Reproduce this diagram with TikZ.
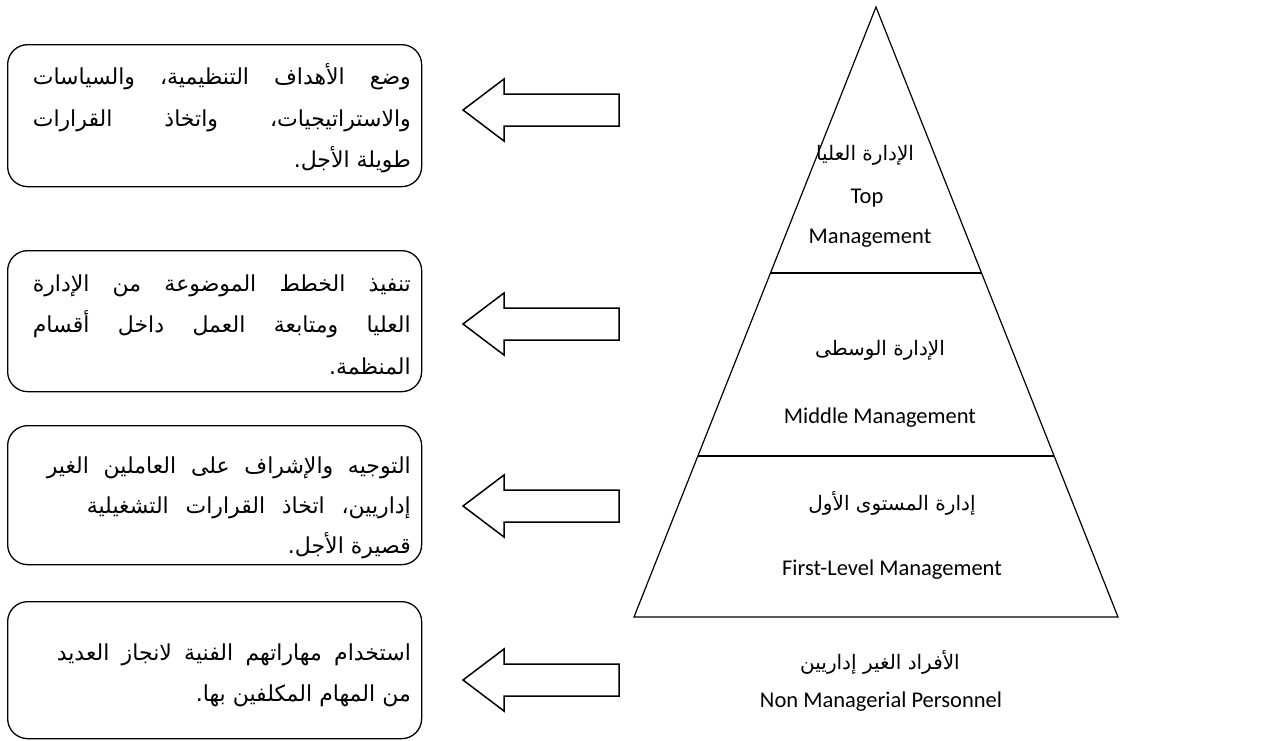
\documentclass[tikz,border=0pt]{standalone}
\usepackage{fontspec}
\usetikzlibrary{calc}
\TeXXeTstate=1
\newfontfamily\arabicfont[Script=Arabic]{DejaVu Sans}
\newfontfamily\latinfont{Carlito}
\newcommand\ws{\hskip 0.3em plus 1fil minus 0.12em}
\begin{document}
\begin{tikzpicture}[x=1pt,y=-1pt,
  box/.style={draw, line width=1.3pt, rounded corners=20pt, rectangle, anchor=north west, inner sep=0pt},
  blockarrow/.style={draw, line width=1.5pt, line join=miter},
  lvl/.style={line width=1.2pt},
  en/.style={font=\latinfont\fontsize{22.5}{27}\selectfont, inner sep=0pt},
  ar/.style={font=\arabicfont\fontsize{20}{24}\selectfont, inner sep=0pt},
  boxline/.style={anchor=base east, inner sep=0pt, font=\arabicfont\fontsize{22}{26}\selectfont},
  larrow/.pic={\draw[blockarrow] (0,0) -- (41,-31) -- (41,-16) -- (156,-16) -- (156,16) -- (41,16) -- (41,31) -- cycle;}]
\useasboundingbox (0,0) rectangle (1272,740);

% boxes
\node[box, minimum width=414pt, minimum height=142pt] (b1) at (7,44) {};
\node[box, minimum width=414pt, minimum height=141pt] (b2) at (7,250) {};
\node[box, minimum width=414pt, minimum height=139pt] (b3) at (7,425) {};
\node[box, minimum width=414pt, minimum height=137pt] (b4) at (7,601) {};

% box texts
\node[boxline] (b1l1) at (411,84) {\hbox to 378pt{\beginR وضع\ws الأهداف\ws التنظيمية،\ws والسياسات\endR}};
\node[boxline] (b1l2) at (411,126) {\hbox to 378pt{\beginR والاستراتيجيات،\ws واتخاذ\ws القرارات\endR}};
\node[boxline] (b1l3) at (411,167) {\hbox{\beginR طويلة الأجل.\endR}};

\node[boxline] (b2l1) at (411,291) {\hbox to 378pt{\beginR تنفيذ\ws الخطط\ws الموضوعة\ws من\ws الإدارة\endR}};
\node[boxline] (b2l2) at (411,332) {\hbox to 378pt{\beginR العليا\ws ومتابعة\ws العمل\ws داخل\ws أقسام\endR}};
\node[boxline] (b2l3) at (411,374) {\hbox{\beginR المنظمة.\endR}};

\node[boxline] (b3l1) at (411,473) {\hbox to 364pt{\beginR التوجيه\ws والإشراف\ws على\ws العاملين\ws الغير\endR}};
\node[boxline] (b3l2) at (411,513) {\hbox to 324pt{\beginR إداريين،\ws اتخاذ\ws القرارات\ws التشغيلية\endR}};
\node[boxline] (b3l3) at (411,553) {\hbox{\beginR قصيرة الأجل.\endR}};

\node[boxline] (b4l1) at (411,660) {\hbox to 354pt{\beginR استخدام\ws مهاراتهم\ws الفنية\ws لانجاز\ws العديد\endR}};
\node[boxline] (b4l2) at (411,701) {\hbox{\beginR من المهام المكلفين بها.\endR}};

% block arrows
\pic (a1) at (463,110) {larrow};
\pic (a2) at (463,324) {larrow};
\pic (a3) at (463,506) {larrow};
\pic (a4) at (463,680) {larrow};

% pyramid
\coordinate (apex) at (876,7);
\coordinate (bl) at (634,617);
\coordinate (br) at (1118,617);
\draw[lvl] (apex) -- (bl) -- (br) -- cycle;
\draw[lvl] ($(apex)!0.436!(bl)$) -- ($(apex)!0.436!(br)$);
\draw[lvl] ($(apex)!0.736!(bl)$) -- ($(apex)!0.736!(br)$);

% pyramid labels
\node[ar] (t1ar) at (865,155) {\beginR الإدارة العليا\endR};
\node[en] (t1en) at (867,198) {Top};
\node[en] (t1en2) at (870,238) {Management};
\node[ar] (t2ar) at (880,350) {\beginR الإدارة الوسطى\endR};
\node[en] (t2en) at (880,418) {Middle Management};
\node[ar] (t3ar) at (892,503) {\beginR إدارة المستوى الأول\endR};
\node[en] (t3en) at (892,570) {First-Level Management};
\node[ar] (t4ar) at (880,662) {\beginR الأفراد الغير إداريين\endR};
\node[en] (t4en) at (881,702) {Non Managerial Personnel};
\end{tikzpicture}
\end{document}
